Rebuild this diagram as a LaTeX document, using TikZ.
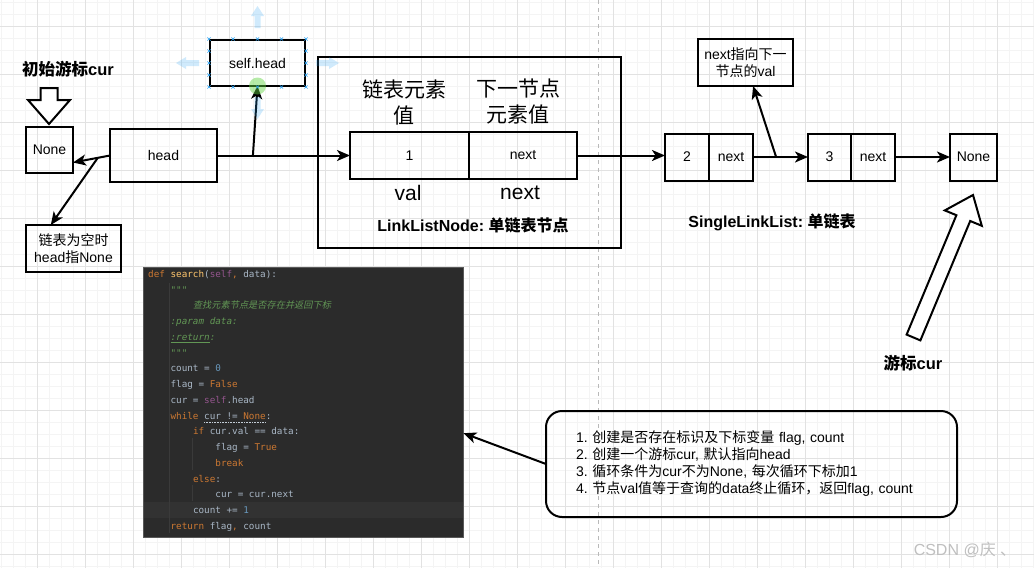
\documentclass[tikz,border=0pt]{standalone}
\usepackage{fontspec}
\setmainfont{Liberation Sans}
\setmonofont{DejaVu Sans Mono}
\newfontfamily\cjk{Noto Sans CJK SC}
\newfontfamily\cjkslant{Noto Sans CJK SC}[FakeSlant=0.2]
\usepackage{xcolor}
\usetikzlibrary{arrows.meta,positioning,calc}
\frenchspacing
\definecolor{gridmajor}{HTML}{E2E2E2}
\definecolor{gridminor}{HTML}{F4F4F4}
\definecolor{codebg}{HTML}{2B2B2B}
\definecolor{codeband}{HTML}{323232}
\definecolor{codeguide}{HTML}{3A3A3A}
\definecolor{codefg}{HTML}{A9B7C6}
\definecolor{codekw}{HTML}{CC7832}
\definecolor{codeself}{HTML}{94558D}
\definecolor{codefn}{HTML}{FFC66D}
\definecolor{codenum}{HTML}{6897BB}
\definecolor{codedoc}{HTML}{629755}
\definecolor{selblue}{HTML}{29A3F5}
\definecolor{selgreen}{HTML}{5FD33F}
\newcommand{\zh}[1]{{\cjk #1}}
\newcommand{\kw}[1]{\textcolor{codekw}{#1}}
\newcommand{\doc}[1]{\textcolor{codedoc}{\itshape #1}}
\tikzstyle{block} = [rectangle, draw, line width=2pt, inner sep=0pt, outer sep=0pt, text centered, font=\fontsize{14}{17}\selectfont]
\tikzstyle{cell} = [block, minimum height=47pt]
\tikzstyle{bubble} = [block, rounded corners=16pt, align=left]
\tikzstyle{biglabel} = [inner sep=0pt, align=center, font=\fontsize{21}{26}\selectfont]
\tikzstyle{heading} = [inner sep=0pt, font=\fontsize{16.5}{20}\selectfont\bfseries]
\tikzstyle{line} = [draw, line width=2pt, -{Stealth[length=13pt,width=11pt,inset=3.5pt]}]
\tikzstyle{hollow} = [draw, line width=2pt, fill=white, line join=miter]
\tikzstyle{selarrow} = [fill=selblue, opacity=0.22]
\tikzstyle{codetext} = [anchor=base west, inner sep=0pt, text=codefg, font=\ttfamily\fontsize{9.3}{11}\selectfont]

\begin{document}
\begin{tikzpicture}[x=1pt, y=-1pt]
\useasboundingbox (0,0) rectangle (1034,568);
\fill[white] (0,0) rectangle (1034,568);
% background grid
\foreach \gx in {1,13,...,1033} \draw[gridminor, line width=0.6pt] (\gx,0) -- (\gx,568);
\foreach \gy in {2,14,...,566} \draw[gridminor, line width=0.6pt] (0,\gy) -- (1034,\gy);
\foreach \gx in {37,85,...,1021} \draw[gridmajor, line width=0.8pt] (\gx,0) -- (\gx,568);
\foreach \gy in {26,74,...,554} \draw[gridmajor, line width=0.8pt] (0,\gy) -- (1034,\gy);
\draw[gray!55, line width=0.8pt, dash pattern=on 4pt off 4pt] (598,0) -- (598,568);

% left part: cursor, head, self.head
\node [heading] (curinit) at (68,69) {\zh{初始游标}cur};
\draw [hollow] (40.5,88) -- (57.5,88) -- (57.5,100) -- (70,100) -- (49,124) -- (28,100) -- (40.5,100) -- cycle;
\node [block, minimum width=47pt, minimum height=46pt] (none1) at (49.5,150) {None};
\node [block, minimum width=107pt, minimum height=53pt] (headbox) at (163.5,155.5) {head};
\node [block, minimum width=95pt, minimum height=46pt] (selfhead) at (257.5,63) {self.head};
\node [block, minimum width=95pt, minimum height=47pt, align=center] (emptytip) at (73.5,248.5) {\zh{链表为空时}\\head\zh{指}None};

% LinkListNode
\node [block, minimum width=303pt, minimum height=191pt] (nodebox) at (469.5,152.5) {};
\node [cell, minimum width=119pt] (valbox) at (409.5,155.5) {1};
\node [cell, minimum width=108pt, right=0pt of valbox] (nextbox) {next};
\node [biglabel] (valtitle) at (404,102) {\zh{链表元素}\\\zh{值}};
\node [biglabel] (nexttitle) at (518,102) {\zh{下一节点}\\\zh{元素值}};
\node [biglabel] (vallabel) at (408,193) {val};
\node [biglabel] (nextlabel) at (520,193) {next};
\node [heading, font=\fontsize{16}{19}\selectfont\bfseries] (nodename) at (473,225) {LinkListNode: \zh{单链表节点}};

% SingleLinkList
\node [cell, minimum width=44pt] (n2val) at (687,157) {2};
\node [cell, minimum width=44pt, right=0pt of n2val] (n2next) {next};
\node [cell, minimum width=43pt, right=55pt of n2next] (n3val) {3};
\node [cell, minimum width=44pt, right=0pt of n3val] (n3next) {next};
\node [cell, minimum width=47pt, right=55pt of n3next] (none2) {None};
\node [block, minimum width=95pt, minimum height=47pt, align=center] (nextnote) at (745.5,62.5) {next\zh{指向下一}\\\zh{节点的}val};
\node [heading, font=\fontsize{16}{19}\selectfont\bfseries] (listname) at (772,222) {SingleLinkList: \zh{单链表}};
\draw [hollow] (906.6,334.6) -- (956.4,215.2) -- (944.8,210.4) -- (973,195) -- (981.8,225.8) -- (970.2,221.0) -- (920.4,340.4) -- cycle;
\node [heading] (curlabel) at (913,363) {\zh{游标}cur};

% connectors
\coordinate (tap0) at ($(headbox.west)!0.33!(none1.-28)$);
\coordinate (tap1) at ($(headbox.east)!0.27!(valbox.west)$);
\coordinate (tap2) at ($(n2next.east)!0.42!(n3val.west)$);
\path [line] (headbox.east) -- (valbox.west);
\path [line] (tap1) -- (selfhead.south);
\path [line] (headbox.west) -- (none1.-28);
\path [line] (tap0) -- (emptytip.134);
\path [line] (nextbox.east) -- (nextbox.east -| n2val.west);
\path [line] (n2next) -- (n3val);
\path [line] (n3next) -- (none2);
\path [line] (tap2) -- (nextnote);

% selection marks on self.head
\foreach \mx/\my in {209/39, 233/39, 257.5/39, 281.5/39, 306/39, 209/87, 233/87, 281.5/87, 306/87, 209/51, 209/63, 209/75, 306/51, 306/63, 306/75}
  \draw [selblue, line width=0.6pt] (\mx-1.6,\my-1.6) -- (\mx+1.6,\my+1.6) (\mx-1.6,\my+1.6) -- (\mx+1.6,\my-1.6);
\fill [selarrow] (257.5,6) -- (264,16) -- (260.5,16) -- (260.5,28) -- (254.5,28) -- (254.5,16) -- (251,16) -- cycle;
\fill [selarrow] (176,63) -- (186,57) -- (186,60) -- (199,60) -- (199,66) -- (186,66) -- (186,69) -- cycle;
\fill [selarrow] (339,63) -- (329,57) -- (329,60) -- (316,60) -- (316,66) -- (329,66) -- (329,69) -- cycle;
\fill [selarrow] (257.5,119) -- (264,109) -- (260.5,109) -- (260.5,97) -- (254.5,97) -- (254.5,109) -- (251,109) -- cycle;
\fill [selgreen, opacity=0.45] (selfhead.south) circle (8.5);
\draw [selblue, line width=0.6pt] (256,85.5) -- (259,88.5) (256,88.5) -- (259,85.5);

% code screenshot
\node [rectangle, draw=gray!70!black, line width=0.8pt, fill=codebg, minimum width=320pt, minimum height=270pt, inner sep=0pt] (codebox) at (303,402) {};
\fill [codeband] (143.5,502) rectangle (462.5,518);
\draw [codeguide, line width=0.8pt] (169,283) -- (169,533);
\draw [codeguide, line width=0.8pt] (192,438) -- (192,470);
\draw [codeguide, line width=0.8pt] (192,485) -- (192,501);
\node [codetext] (c0) at (148,277.2) {\kw{def} \textcolor{codefn}{search}(\textcolor{codeself}{self}\kw{,} data):};
\node [codetext] (c1) at (170.4,293) {\doc{"""}};
\node [codetext] (c2) at (192.8,308.7) {\textcolor{codedoc}{\cjkslant\fontsize{9.2}{11}\selectfont 查找元素节点是否存在并返回下标}};
\node [codetext] (c3) at (170.4,324.5) {\doc{:param data:}};
\node [codetext] (c4) at (170.4,340.2) {\doc{\underline{:return}:}};
\node [codetext] (c5) at (170.4,356) {\doc{"""}};
\node [codetext] (c6) at (170.4,371.7) {count = \textcolor{codenum}{0}};
\node [codetext] (c7) at (170.4,387.5) {flag = \kw{False}};
\node [codetext] (c8) at (170.4,403.2) {cur = \textcolor{codeself}{self}.head};
\node [codetext] (c9) at (170.4,419) {\kw{while} cur != \kw{None}:};
\draw [codefg!70, line width=0.6pt, densely dotted] (204,422) -- (266,422);
\node [codetext] (c10) at (192.8,434.7) {\kw{if} cur.val == data:};
\node [codetext] (c11) at (215.2,450.5) {flag = \kw{True}};
\node [codetext] (c12) at (215.2,466.2) {\kw{break}};
\node [codetext] (c13) at (192.8,482) {\kw{else}:};
\node [codetext] (c14) at (215.2,497.7) {cur = cur.next};
\node [codetext] (c15) at (192.8,513.5) {count += \textcolor{codenum}{1}};
\node [codetext] (c16) at (170.4,529.2) {\kw{return} flag\kw{,} count};

% explanation
\node [bubble, minimum width=411pt, minimum height=106pt, text width=351pt] (notes) at (751.5,464) {1. \zh{创建是否存在标识及下标变量} flag, count\\2. \zh{创建一个游标}cur, \zh{默认指向}head\\3. \zh{循环条件为}cur\zh{不为}None, \zh{每次循环下标加}1\\4. \zh{节点}val\zh{值等于查询的}data\zh{终止循环，返回}flag, count};
\path [line] (notes.west) -- (codebox.-11.3);

\node [inner sep=0pt, text=gray!50, font=\fontsize{16}{19}\selectfont] (mark) at (965,550) {CSDN @\zh{庆} \zh{、}};
\end{tikzpicture}
\end{document}
